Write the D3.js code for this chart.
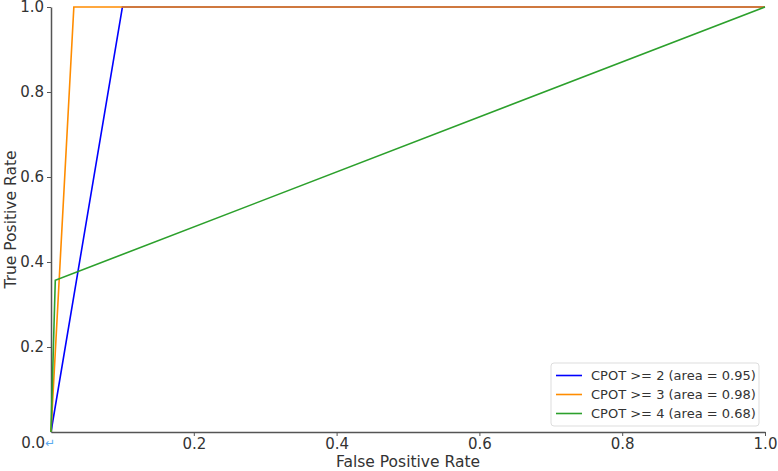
<!DOCTYPE html>
<html>
<head>
<meta charset="utf-8">
<script src="https://cdn.jsdelivr.net/npm/d3@7"></script>
<style>
  body { margin: 0; background: #fff; }
  svg text { font-family: "DejaVu Sans", sans-serif; }
</style>
</head>
<body>
<div id="chart"></div>
<script>
// ROC curves (false positive rate, true positive rate)
const seriesNames = ["CPOT >= 2 (area = 0.95)", "CPOT >= 3 (area = 0.98)", "CPOT >= 4 (area = 0.68)"];
const seriesColors = ["#0000ff", "#ff8c00", "#2ca02c"];
const fpr2 = [0, 0.1, 1];
const tpr2 = [0, 1, 1];
const fpr3 = [0, 0.032, 1];
const tpr3 = [0, 1, 1];
const fpr4 = [0, 0.006, 1];
const tpr4 = [0, 0.357, 1];
const xTicks = [0.2, 0.4, 0.6, 0.8, 1.0];
const yTicks = [0.2, 0.4, 0.6, 0.8, 1.0];

const w = 778, h = 471;
const margin = { left: 51, right: 13, top: 7, bottom: 39 };

const svg = d3.select("#chart").append("svg")
  .attr("width", w)
  .attr("height", h);

const x = d3.scaleLinear().domain([0, 1]).range([margin.left, w - margin.right]);
const y = d3.scaleLinear().domain([0, 1]).range([h - margin.bottom, margin.top]);

// axes
const xAxis = d3.axisBottom(x)
  .tickValues(xTicks)
  .tickFormat(d3.format(".1f"))
  .tickSize(4)
  .tickSizeOuter(0);

const gx = svg.append("g")
  .attr("transform", `translate(0, ${y(0)})`)
  .call(xAxis);

const yAxis = d3.axisLeft(y)
  .tickValues(yTicks)
  .tickFormat(d3.format(".1f"))
  .tickSize(4)
  .tickSizeOuter(0);

const gy = svg.append("g")
  .attr("transform", `translate(${x(0)}, 0)`)
  .call(yAxis);

[gx, gy].forEach(g => {
  g.select(".domain").attr("stroke", "#555").attr("stroke-width", 1.5);
  g.selectAll(".tick line").attr("stroke", "#555").attr("stroke-width", 1);
  g.selectAll(".tick text").attr("fill", "#333").style("font-size", "15px");
});
gx.selectAll(".tick text").attr("y", 6);
gy.selectAll(".tick text").attr("x", -7);

// the shared origin label
svg.append("text")
  .attr("x", x(0) - 6)
  .attr("y", y(0) + 16)
  .attr("text-anchor", "end")
  .attr("fill", "#333")
  .style("font-size", "15px")
  .text("0.0");
svg.append("text")
  .attr("x", x(0) - 6)
  .attr("y", y(0) + 15)
  .attr("fill", "#5aaaf0")
  .style("font-size", "12px")
  .text("↵");

// axis titles
svg.append("text")
  .attr("x", (x(0) + x(1)) / 2)
  .attr("y", h - 4)
  .attr("text-anchor", "middle")
  .attr("fill", "#333")
  .style("font-size", "15.5px")
  .text("False Positive Rate");

svg.append("text")
  .attr("transform", `translate(16, ${(y(0) + y(1)) / 2}) rotate(-90)`)
  .attr("text-anchor", "middle")
  .attr("fill", "#333")
  .style("font-size", "15.5px")
  .text("True Positive Rate");

// curves
const curves = [
  { fpr: fpr2, tpr: tpr2 },
  { fpr: fpr3, tpr: tpr3 },
  { fpr: fpr4, tpr: tpr4 }
];

const line = d3.line()
  .x(d => x(d[0]))
  .y(d => y(d[1]));

curves.forEach((c, i) => {
  svg.append("path")
    .datum(c.fpr.map((f, j) => [f, c.tpr[j]]))
    .attr("fill", "none")
    .attr("stroke", seriesColors[i])
    .attr("stroke-width", 1.6)
    .attr("d", line);
});

// legend
const legend = svg.append("g").attr("transform", "translate(551, 363)");
legend.append("rect")
  .attr("width", 208)
  .attr("height", 63)
  .attr("rx", 3)
  .attr("fill", "white")
  .attr("fill-opacity", 0.85)
  .attr("stroke", "#ddd");

seriesNames.forEach((name, i) => {
  const row = legend.append("g").attr("transform", `translate(0, ${12.5 + i * 19})`);
  row.append("line")
    .attr("x1", 5).attr("x2", 31)
    .attr("stroke", seriesColors[i])
    .attr("stroke-width", 1.6);
  row.append("text")
    .attr("x", 40)
    .attr("dy", "0.35em")
    .attr("fill", "#333")
    .style("font-size", "13px")
    .text(name);
});
</script>
</body>
</html>
